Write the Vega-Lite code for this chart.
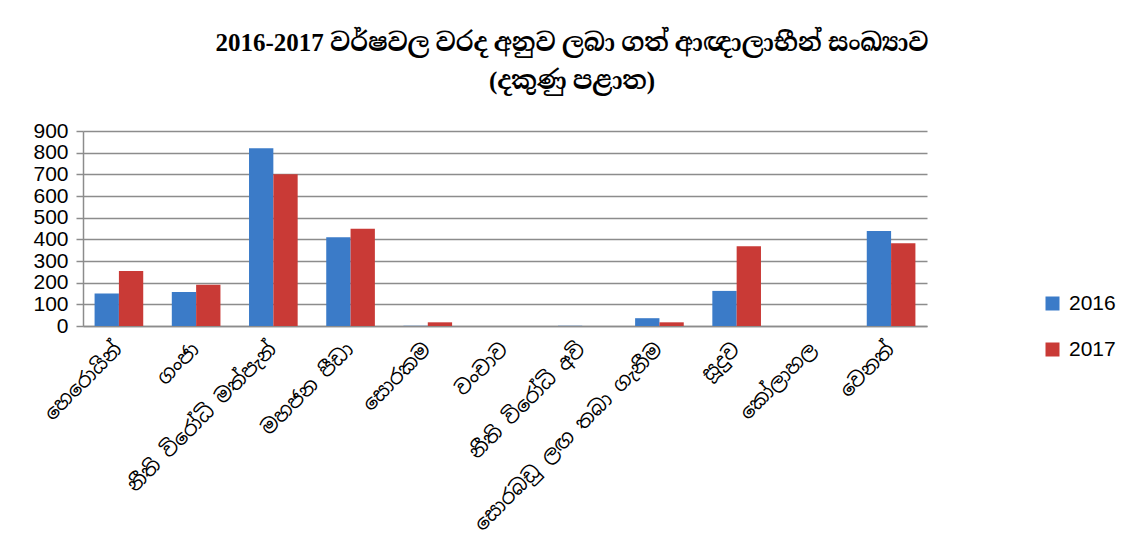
{
  "$schema": "https://vega.github.io/schema/vega-lite/v6.json",
  "autosize": "none",
  "width": 844,
  "height": 195,
  "padding": {"left": 83, "top": 131, "right": 206, "bottom": 219},
  "background": "white",
  "title": {
    "text": ["2016-2017 වර්ෂවල වරද අනුව ලබා ගත් ආඥාලාභීන් සංඛ්‍යාව", "(දකුණු පළාත)"],
    "font": "Liberation Serif, Noto Serif Sinhala, Noto Sans Sinhala, serif",
    "fontSize": 25,
    "fontWeight": "bold",
    "color": "black",
    "lineHeight": 38,
    "anchor": "middle",
    "dx": 67,
    "offset": 26
  },
  "data": {
    "values": [
      {"c": "හෙරොයින්", "y": "2016", "v": 150},
      {"c": "හෙරොයින්", "y": "2017", "v": 254},
      {"c": "ගංජා", "y": "2016", "v": 157},
      {"c": "ගංජා", "y": "2017", "v": 190},
      {"c": "නීති විරෝධි මත්පැන්", "y": "2016", "v": 820},
      {"c": "නීති විරෝධි මත්පැන්", "y": "2017", "v": 700},
      {"c": "මහජන පීඩා", "y": "2016", "v": 410},
      {"c": "මහජන පීඩා", "y": "2017", "v": 449},
      {"c": "සොරකම", "y": "2016", "v": 1},
      {"c": "සොරකම", "y": "2017", "v": 17},
      {"c": "වංචාව", "y": "2016", "v": 0},
      {"c": "වංචාව", "y": "2017", "v": 0},
      {"c": "නීති විරෝධි අවි", "y": "2016", "v": 1},
      {"c": "නීති විරෝධි අවි", "y": "2017", "v": 0},
      {"c": "සොරබඩු ලඟ තබා ගැනීම", "y": "2016", "v": 36},
      {"c": "සොරබඩු ලඟ තබා ගැනීම", "y": "2017", "v": 17},
      {"c": "සූදුව", "y": "2016", "v": 162},
      {"c": "සූදුව", "y": "2017", "v": 368},
      {"c": "කෝලාහල", "y": "2016", "v": 0},
      {"c": "කෝලාහල", "y": "2017", "v": 0},
      {"c": "වෙනත්", "y": "2016", "v": 439},
      {"c": "වෙනත්", "y": "2017", "v": 382}
    ]
  },
  "mark": {"type": "bar"},
  "encoding": {
    "x": {
      "field": "c",
      "type": "nominal",
      "sort": null,
      "title": null,
      "scale": {"paddingInner": 0.37, "paddingOuter": 0.15},
      "axis": {
        "labelAngle": -45,
        "labelAlign": "right",
        "labelBaseline": "middle",
        "labelFontSize": 20,
        "labelFont": "Noto Sans Sinhala, Noto Serif Sinhala, sans-serif",
        "labelColor": "black",
        "labelPadding": 20,
        "ticks": false,
        "domainColor": "#8c8c8c",
        "domainWidth": 1.5,
        "labelLimit": 400
      }
    },
    "xOffset": {"field": "y", "type": "nominal", "scale": {"paddingInner": 0, "paddingOuter": 0}},
    "y": {
      "field": "v",
      "type": "quantitative",
      "title": null,
      "scale": {"domain": [0, 900], "nice": false},
      "axis": {
        "values": [0, 100, 200, 300, 400, 500, 600, 700, 800, 900],
        "labelFontSize": 21,
        "labelFont": "Liberation Sans, Open Sans, sans-serif",
        "labelColor": "black",
        "labelPadding": 8,
        "tickSize": 7,
        "tickColor": "#8c8c8c",
        "tickWidth": 1.5,
        "domainColor": "#8c8c8c",
        "domainWidth": 1.5,
        "grid": true,
        "gridColor": "#8c8c8c",
        "gridWidth": 1.5
      }
    },
    "color": {
      "field": "y",
      "type": "nominal",
      "title": null,
      "scale": {"domain": ["2016", "2017"], "range": ["#3b7bc8", "#c93a36"]},
      "legend": {
        "orient": "none",
        "legendX": 959,
        "legendY": 162,
        "symbolType": "square",
        "symbolSize": 196,
        "symbolStrokeWidth": 0,
        "labelFontSize": 21,
        "labelFont": "Liberation Sans, Open Sans, sans-serif",
        "labelColor": "black",
        "rowPadding": 24,
        "labelOffset": 6
      }
    }
  },
  "config": {"view": {"stroke": null}}
}
